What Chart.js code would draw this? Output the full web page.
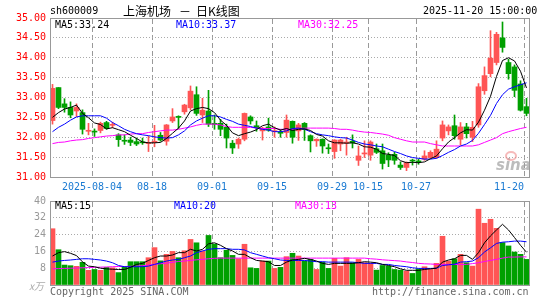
<!DOCTYPE html>
<html><head><meta charset="utf-8">
<script src="https://cdn.jsdelivr.net/npm/chart.js@4/dist/chart.umd.min.js"></script>
<style>
html,body{margin:0;padding:0;background:#fff;}
#wrap{position:relative;width:545px;height:300px;overflow:hidden;font-family:"DejaVu Sans Mono",monospace;font-size:10px;}
.t{position:absolute;white-space:pre;line-height:10px;}
.cj{font-size:12px;line-height:14px;font-family:'Noto Sans CJK SC',sans-serif;color:#000;top:4px;}
canvas{position:absolute;left:0;}
</style></head><body>
<div id="wrap">
<canvas id="k" width="545" height="195" style="top:0px"></canvas>
<canvas id="v" width="545" height="110" style="top:190px"></canvas>
<div class="t" style="left:50px;top:6px;color:#000">sh600009</div>
<div class="t cj" style="left:123px;">上海机场</div>
<div class="t cj" style="left:179px;">－</div>
<div class="t cj" style="left:196px;">日K线图</div>
<div class="t" style="left:423px;top:6px;color:#000">2025-11-20 15:00:00</div>
<div class="t" style="left:55px;top:20px;color:#000">MA5:33.24</div>
<div class="t" style="left:176px;top:20px;color:#0000ff">MA10:33.37</div>
<div class="t" style="left:298px;top:20px;color:#ff00ff">MA30:32.25</div>
<div class="t" style="left:55px;top:201px;color:#000">MA5:15</div>
<div class="t" style="left:174px;top:201px;color:#0000ff">MA10:20</div>
<div class="t" style="left:295px;top:201px;color:#ff00ff">MA30:13</div>
<div class="t" style="left:29px;top:281px;color:#aaa;font-style:italic;font-family:'Noto Sans CJK SC',sans-serif;">x万</div>
<div class="t" style="left:50px;top:287px;color:#666">Copyright 2025 SINA.COM</div>
<div class="t" style="left:372px;top:287px;color:#666">http://finance.sina.com.cn</div>
<div class="t" style="left:496px;top:158px;font:italic bold 15px 'DejaVu Sans',sans-serif;line-height:14px;color:rgba(160,160,160,0.7)">sina</div>
<div style="position:absolute;left:505px;top:151px;width:8px;height:6px;border:2px solid rgba(240,140,140,0.6);border-radius:50%"></div>
</div>
<script>
const dates = ['07-24','07-25','07-28','07-29','07-30','07-31','08-01','08-04','08-05','08-06','08-07','08-08','08-11','08-12','08-13','08-14','08-15','08-18','08-19','08-20','08-21','08-22','08-25','08-26','08-27','08-28','08-29','09-01','09-02','09-03','09-04','09-05','09-08','09-09','09-10','09-11','09-12','09-15','09-16','09-17','09-18','09-19','09-22','09-23','09-24','09-25','09-26','09-29','09-30','10-09','10-10','10-13','10-14','10-15','10-16','10-17','10-20','10-21','10-22','10-23','10-24','10-27','10-28','10-29','10-30','10-31','11-03','11-04','11-05','11-06','11-07','11-10','11-11','11-12','11-13','11-14','11-17','11-18','11-19','11-20'];
const open = [32.42,33.25,32.84,32.75,32.66,32.62,32.15,32.15,32.17,32.37,32.30,32.06,31.92,31.93,31.89,31.87,31.84,31.87,32.05,31.90,32.41,32.52,32.64,32.74,33.07,32.56,32.66,32.35,32.35,32.25,31.85,31.83,31.95,32.51,32.29,32.16,32.26,32.14,32.13,32.12,32.40,32.16,32.35,32.04,31.91,31.95,31.72,31.64,31.83,31.85,31.90,31.42,31.58,31.55,31.71,31.66,31.55,31.57,31.30,31.24,31.42,31.40,31.45,31.49,31.49,31.98,32.16,32.29,31.95,32.26,32.00,32.31,33.17,33.60,33.88,34.50,33.88,33.77,33.34,32.77];
const high = [33.33,33.25,32.97,32.89,32.84,32.69,32.35,32.21,32.38,32.40,32.38,32.09,32.06,32.00,31.98,31.98,32.03,32.30,32.12,32.32,32.72,32.54,32.83,33.29,33.27,32.98,33.18,32.56,32.45,32.33,31.92,31.98,32.61,32.54,32.41,32.25,32.48,32.26,32.20,32.56,32.41,32.35,32.37,32.06,31.96,31.96,31.83,31.94,31.95,32.00,32.06,31.78,31.91,31.91,31.83,31.83,31.61,31.62,31.38,31.38,31.45,31.45,31.66,31.66,31.91,32.41,32.31,32.56,32.37,32.35,32.40,33.35,33.77,34.68,34.64,34.90,33.96,33.82,33.42,32.98];
const low = [32.33,32.72,32.63,32.49,32.52,32.08,32.06,32.02,32.11,32.20,32.24,31.77,31.82,31.79,31.79,31.82,31.64,31.76,31.90,31.80,32.37,32.22,32.58,32.69,32.55,32.37,32.27,32.20,32.04,31.73,31.59,31.72,31.91,32.33,32.15,31.93,32.15,32.00,32.00,32.00,31.85,31.92,31.92,31.63,31.77,31.60,31.59,31.47,31.66,31.55,31.73,31.29,31.49,31.42,31.59,31.20,31.26,31.32,31.19,31.16,31.30,31.32,31.42,31.47,31.47,31.91,32.06,31.95,31.81,31.98,31.89,32.25,33.08,33.52,33.82,34.14,33.46,33.02,32.66,32.54];
const close = [33.23,32.75,32.75,32.56,32.75,32.20,32.17,32.13,32.35,32.22,32.31,31.94,31.90,31.87,31.83,31.86,31.85,31.90,31.93,32.31,32.51,32.50,32.81,33.16,32.60,32.68,32.33,32.32,32.20,31.98,31.73,31.95,32.60,32.41,32.24,32.23,32.18,32.15,32.10,32.43,32.00,32.31,32.20,31.91,31.95,31.78,31.71,31.93,31.93,31.88,31.86,31.53,31.60,31.88,31.62,31.34,31.43,31.42,31.24,31.36,31.40,31.38,31.53,31.62,31.70,32.31,32.26,32.04,32.26,32.09,32.25,33.27,33.55,33.99,34.59,34.26,33.60,33.18,32.68,32.60];
const ma5 = [32.50,32.62,32.71,32.75,32.81,32.60,32.49,32.36,32.32,32.21,32.24,32.19,32.14,32.05,31.97,31.88,31.86,31.86,31.87,31.97,32.10,32.23,32.41,32.66,32.72,32.75,32.72,32.62,32.43,32.30,32.11,32.04,32.09,32.13,32.19,32.29,32.33,32.24,32.18,32.22,32.17,32.20,32.21,32.17,32.07,32.03,31.91,31.86,31.86,31.85,31.86,31.83,31.76,31.75,31.70,31.59,31.57,31.54,31.41,31.36,31.37,31.36,31.38,31.46,31.53,31.71,31.88,31.99,32.11,32.19,32.18,32.38,32.68,33.03,33.53,33.93,34.00,33.92,33.66,33.24];
const ma10 = [32.14,32.25,32.33,32.43,32.51,32.54,32.54,32.54,32.54,32.48,32.37,32.29,32.20,32.14,32.09,32.06,32.04,32.01,31.99,31.98,31.99,32.06,32.16,32.31,32.41,32.48,32.54,32.54,32.51,32.45,32.40,32.33,32.30,32.27,32.23,32.20,32.18,32.14,32.14,32.16,32.22,32.23,32.20,32.14,32.09,32.06,32.04,32.01,31.99,31.98,31.93,31.87,31.83,31.81,31.78,31.76,31.70,31.64,31.59,31.53,31.49,31.47,31.45,31.45,31.47,31.54,31.62,31.69,31.78,31.83,31.92,32.10,32.32,32.55,32.85,33.07,33.21,33.27,33.32,33.37];
const ma30 = [31.84,31.87,31.88,31.91,31.93,31.94,31.97,31.99,32.01,32.03,32.04,32.06,32.06,32.08,32.09,32.09,32.12,32.14,32.16,32.18,32.18,32.20,32.23,32.26,32.30,32.33,32.33,32.33,32.31,32.27,32.25,32.25,32.25,32.25,32.23,32.22,32.22,32.22,32.20,32.20,32.20,32.22,32.23,32.23,32.23,32.23,32.23,32.22,32.20,32.20,32.18,32.15,32.13,32.12,32.10,32.08,32.05,31.99,31.95,31.91,31.88,31.88,31.88,31.84,31.81,31.78,31.78,31.78,31.78,31.78,31.78,31.81,31.87,31.93,31.99,32.09,32.14,32.18,32.22,32.25];
const volume = [26.8,16.8,9.5,9.2,8.9,10.8,7.0,7.4,7.0,8.4,8.2,5.9,8.8,11.1,11.1,11.1,13.0,17.8,11.5,14.6,16.0,13.0,16.3,21.7,20.1,16.2,23.6,19.5,13.0,16.5,14.1,12.5,19.4,8.2,7.9,11.4,11.4,7.9,8.4,13.5,15.1,13.8,11.4,12.2,7.4,10.9,7.9,12.7,9.0,13.0,10.6,12.2,10.6,10.3,7.1,9.3,9.0,7.4,7.1,6.6,5.5,7.7,8.7,7.4,10.3,23.2,11.4,12.5,14.6,10.6,9.0,36.1,29.4,31.3,27.0,20.2,18.6,15.7,14.6,12.2];
const vma5 = [13.8,15.4,15.9,15.1,14.0,11.0,9.0,8.7,8.0,7.7,7.5,7.4,7.4,8.4,9.8,10.3,11.7,13.0,13.8,13.8,14.3,15.4,15.4,17.0,16.2,17.0,19.6,20.1,18.9,17.3,16.2,14.6,14.6,13.0,11.7,11.4,11.1,9.3,9.3,10.9,11.9,12.2,12.7,12.2,11.4,10.3,9.8,10.3,10.3,10.3,10.3,10.6,11.1,10.9,10.6,9.8,9.3,8.7,7.7,7.0,7.0,7.0,7.4,7.7,8.0,10.9,11.9,12.5,14.1,14.1,12.2,15.4,20.1,23.4,26.2,28.9,26.2,22.6,18.9,15.6];
const vma10 = [10.9,11.4,11.7,11.9,12.2,12.5,12.5,12.2,11.9,11.4,10.6,9.3,8.7,8.7,8.7,8.7,9.0,9.8,10.6,11.4,11.9,12.2,13.0,13.8,15.4,16.2,17.0,17.3,17.3,17.3,17.0,17.0,16.7,15.4,14.6,13.8,13.0,12.5,11.9,11.7,11.7,11.7,11.7,11.4,11.1,11.1,10.9,10.9,10.9,10.9,10.9,10.6,10.3,10.3,10.3,9.8,9.8,9.3,9.0,8.7,8.2,7.9,7.9,7.9,8.0,9.3,9.6,9.9,10.9,11.1,11.4,13.0,15.7,17.7,19.8,20.4,20.6,20.9,20.9,20.6];
const vma30 = [7.7,7.8,7.9,8.0,8.1,8.2,8.3,8.4,8.5,8.6,8.7,8.8,8.8,8.9,9.0,9.2,9.5,9.8,10.1,10.4,10.8,11.2,11.4,11.7,12.0,12.2,12.5,12.7,12.8,12.8,12.8,12.8,12.8,12.8,12.8,12.8,12.8,12.8,12.8,12.8,12.8,12.8,12.8,12.8,12.8,12.8,12.8,12.8,12.8,12.8,12.8,12.8,12.8,12.5,12.3,12.0,11.8,11.6,11.4,11.0,10.7,10.3,10.1,10.0,9.8,9.8,9.8,9.8,9.8,9.8,10.2,10.6,11.2,11.7,12.2,12.8,13.3,13.3,13.4,13.4];
const priceTicks = {min:31, max:35, step:0.5};
const volTicks = {min:0, max:40, step:8};
const tickDates = ['08-04','08-18','09-01','09-15','09-29','10-15','10-27','11-20'];
const tickText = ['2025-08-04','08-18','09-01','09-15','09-29','10-15','10-27','11-20'];

const RED='#ff5555', GREEN='#00a000', GRID='#aaaaaa', NONE='rgba(0,0,0,0)';
const MONO='DejaVu Sans Mono';
const C = 5/12; // body centre inside a trading-day slot
const N = dates.length;
const col = dates.map((d,i)=> close[i]>=open[i]?RED:GREEN);
const tickIdx = tickDates.map(d=>dates.indexOf(d));
const labelOf = {}; tickIdx.forEach((ix,k)=>labelOf[ix]=tickText[k]);
const pts = arr => arr.map((v,i)=>({x:i+C,y:v}));

const boxPlugin = {id:'box', afterDraw(chart){
  const a=chart.chartArea, ctx=chart.ctx, xs=chart.scales.x;
  ctx.save();
  ctx.globalCompositeOperation='destination-over';
  ctx.strokeStyle='#999999'; ctx.lineWidth=1; ctx.setLineDash([5,3]);
  for (const ix of tickIdx){ const px=Math.round(xs.getPixelForValue(ix))+0.5;
    ctx.beginPath(); ctx.moveTo(px,a.top+1); ctx.lineTo(px,a.bottom); ctx.stroke(); }
  ctx.restore();
  ctx.save();
  ctx.strokeStyle='#999'; ctx.lineWidth=1; ctx.setLineDash([]);
  ctx.strokeRect(a.left+0.5,a.top+0.5,a.right-a.left-1,a.bottom-a.top);
  ctx.restore();}};

function xScale(showLabels, h){
  return {type:'linear', min:0, max:N, offset:false,
    afterBuildTicks(s){ s.ticks=[0].concat(tickIdx).map(v=>({value:v})); },
    afterFit(s){ s.height=h; },
    ticks:{display:showLabels, autoSkip:false, maxRotation:0, minRotation:0, align:'inner', padding:4,
      color:'#1a7ad2', font:{family:MONO,size:10}, callback:v=> labelOf[v]!==undefined?labelOf[v]:''},
    grid:{display:false, drawTicks:false},
    border:{display:false}};
}
const lineDs = (arr,color)=>({type:'line', data:pts(arr), borderColor:color, borderWidth:1, pointRadius:0, tension:0, order:0});

new Chart(document.getElementById('k'), {
  type:'bar',
  data:{datasets:[
    lineDs(ma5,'#000000'), lineDs(ma10,'#0000ff'), lineDs(ma30,'#ff00ff'),
    {data:dates.map((d,i)=>({x:i+C,y:[low[i],high[i]]})), backgroundColor:col, barThickness:1, grouped:false, order:2, borderWidth:0},
    {data:dates.map((d,i)=>({x:i+C,y:[Math.min(open[i],close[i]),Math.max(open[i],close[i])]})), backgroundColor:col, barThickness:5, minBarLength:1, grouped:false, order:1, borderWidth:0}
  ]},
  options:{responsive:false, animation:false, events:[], layout:{padding:{top:18,right:15,left:0,bottom:0}},
    plugins:{legend:{display:false}, tooltip:{enabled:false}},
    scales:{
      x:xScale(true,18),
      y:{min:priceTicks.min, max:priceTicks.max, afterFit(s){s.width=50;},
        ticks:{stepSize:priceTicks.step, color:'#ff0000', padding:4, font:{family:MONO,size:10}, callback:v=>Number(v).toFixed(2)},
        grid:{drawTicks:false, lineWidth:1, color:c=> (c.tick && c.tick.value>priceTicks.min && c.tick.value<priceTicks.max)?GRID:NONE},
        border:{display:false, dash:[1,2]}}
    }},
  plugins:[boxPlugin]
});

new Chart(document.getElementById('v'), {
  type:'bar',
  data:{datasets:[
    lineDs(vma5,'#000000'), lineDs(vma10,'#0000ff'), lineDs(vma30,'#ff00ff'),
    {data:volume.map((v,i)=>({x:i+C,y:v})), backgroundColor:col, barThickness:5, grouped:false, order:1, borderWidth:0}
  ]},
  options:{responsive:false, animation:false, events:[], layout:{padding:{top:11,right:15,left:0,bottom:0}},
    plugins:{legend:{display:false}, tooltip:{enabled:false}},
    scales:{
      x:xScale(false,15),
      y:{min:volTicks.min, max:volTicks.max, afterFit(s){s.width=50;},
        ticks:{stepSize:volTicks.step, color:'#999', padding:4, font:{family:MONO,size:10}, callback:v=> v===0?'':String(v)},
        grid:{drawTicks:false, lineWidth:1, color:c=> (c.tick && c.tick.value>volTicks.min && c.tick.value<volTicks.max)?GRID:NONE},
        border:{display:false, dash:[1,2]}}
    }},
  plugins:[boxPlugin]
});
</script>
</body></html>
